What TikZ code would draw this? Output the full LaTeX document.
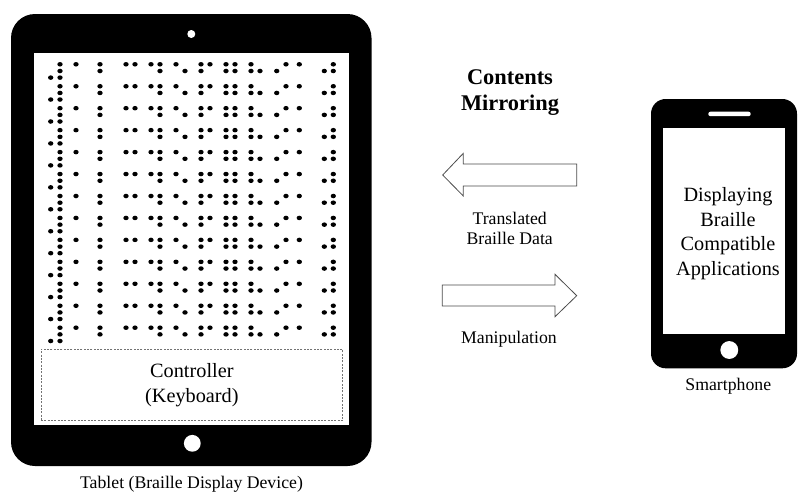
\documentclass[tikz,border=0pt]{standalone}
\usepackage{fontspec}
\setmainfont{Liberation Serif}
\begin{document}
\begin{tikzpicture}[x=0.75pt,y=-0.75pt,
  dot/.style={fill=black},
  lbl/.style={font=\fontsize{13.3}{16}\selectfont, align=center, inner sep=0pt, anchor=base},
  big/.style={font=\fontsize{15.2}{18.4}\selectfont, align=center, inner sep=0pt, anchor=base},
  title/.style={font=\fontsize{16.8}{20}\selectfont\bfseries, align=center, inner sep=0pt, anchor=base},
  blockarrow/.style={draw=black!70, line width=0.6pt, fill=white, line join=miter}]
\useasboundingbox (0,0) rectangle (798,493);
\fill[white] (0,0) rectangle (798,493);

% ---- tablet body, screen and buttons ----
\fill[rounded corners=18pt] (11,14) rectangle (371.5,466);
\fill[white] (34.3,53.3) rectangle (349,425);
\fill[white] (191.3,34) circle[radius=3pt];
\fill[white] (192.3,443.3) circle[radius=6.3pt];

% ---- braille text on the tablet screen (13 identical lines) ----
\foreach \k in {0,...,12} {
  \pgfmathsetmacro\ya{64.3+21.95*\k}
  \pgfmathsetmacro\yb{\ya+6.7}
  \pgfmathsetmacro\yc{\ya+13.3}
  \foreach \x in {60,76,100,126,135,151,160,176,201,210,226,235,251,286,299.3,333.3}
    \fill[dot] (\x,\ya) ellipse[x radius=2pt,y radius=1.7pt];
  \foreach \x in {60,100,160,185,201,226,235,251,260,276.7,324.3,333.3}
    \fill[dot] (\x,\yb) ellipse[x radius=2pt,y radius=1.7pt];
  \foreach \x in {50.7,60}
    \fill[dot] (\x,\yc) ellipse[x radius=2pt,y radius=1.7pt];
}

% ---- controller area ----
\node[draw=black!55, line width=0.5pt, dash pattern=on 1.5pt off 1pt,
      minimum width=226.3pt, minimum height=53.5pt, inner sep=0pt,
      font=\fontsize{15.2}{18.4}\selectfont, align=center]
  (ctrl) at (191.85,385) {Controller\\(Keyboard)};

\node[lbl] (tablet) at (191.5,488) {Tablet (Braille Display Device)};

% ---- smartphone ----
\fill[rounded corners=11pt] (651,99) rectangle (797,368.3);
\fill[white] (663.3,128.3) rectangle (785,334.3);
\fill[white, rounded corners=1.6pt] (708.3,111.7) rectangle (750.7,116.2);
\fill[white] (729.3,350) circle[radius=6.7pt];

\node[big] (disp1) at (728,201) {Displaying};
\node[big] (disp2) at (728,226) {Braille};
\node[big] (disp3) at (728,250) {Compatible};
\node[big] (disp4) at (728,275) {Applications};

\node[lbl] (phone) at (728.3,390.7) {Smartphone};

% ---- mirroring title and block arrows ----
\node[title] (t1) at (510,84) {Contents};
\node[title] (t2) at (510,110) {Mirroring};

\coordinate (la) at (442.7,175);
\draw[blockarrow] (la) -- (463.3,153.3) -- (463.3,164) -- (576.7,164)
  -- (576.7,186) -- (463.3,186) -- (463.3,196) -- cycle;
\node[lbl] (tr1) at (509.7,224) {Translated};
\node[lbl] (tr2) at (509.7,244.3) {Braille Data};

\coordinate (ra) at (576.7,295.7);
\draw[blockarrow] (442.3,285) -- (555,285) -- (555,274.3) -- (ra)
  -- (555,316.7) -- (555,306) -- (442.3,306) -- cycle;
\node[lbl] (manip) at (509,343.3) {Manipulation};
\end{tikzpicture}
\end{document}
